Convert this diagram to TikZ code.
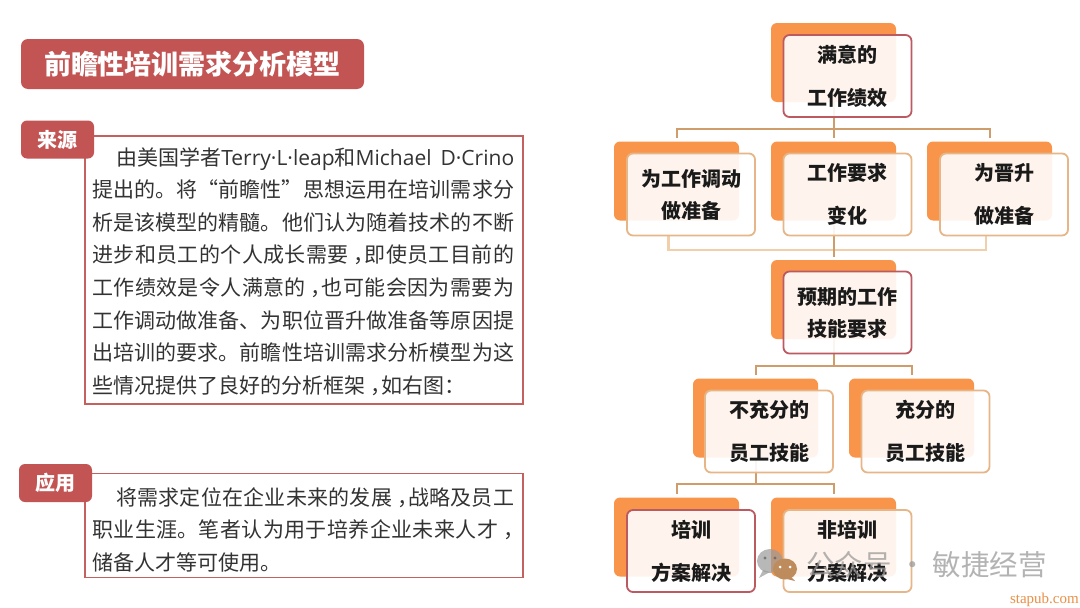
\documentclass[tikz,border=0pt]{standalone}
\usepackage{fontspec}
\setmainfont{Noto Sans CJK SC}
\newfontfamily\latinf{Open Sans}
\newfontfamily\wmserif{Liberation Serif}
\XeTeXlinebreaklocale "zh"
\XeTeXlinebreakskip=0pt plus 3pt minus 0pt
\newcommand{\nc}{\makebox[16pt][l]{\hspace{5pt}，}}
\definecolor{brick}{HTML}{C25453}
\definecolor{framec}{HTML}{C4615F}
\definecolor{backo}{HTML}{F8954A}
\definecolor{tanb}{HTML}{E6B688}
\definecolor{redb}{HTML}{BC5A62}
\definecolor{linkc}{HTML}{CF9D6C}
\definecolor{linkl}{HTML}{F2CFAB}
\definecolor{inkc}{HTML}{1A1A1A}
\definecolor{bodyc}{HTML}{333333}
\definecolor{wmc}{HTML}{9A9A9A}
\tikzset{
  backbox/.style={fill=backo,rounded corners=6pt,minimum width=125pt,minimum height=79pt,inner sep=0pt},
  frontbox/.style={draw=tanb,line width=1.8pt,fill=white,fill opacity=0.9,text opacity=1,rounded corners=6pt,inner sep=0pt,align=center,text=inkc,minimum height=82pt},
  wide/.style={frontbox,minimum width=128pt},
  hilite/.style={draw=redb},
  gapped/.style={font=\fontsize{20}{43}\bfseries\selectfont},
  tight/.style={font=\fontsize{20}{32}\bfseries\selectfont},
  conn/.style={draw=linkc,line width=2pt},
  connl/.style={draw=linkl,line width=2.2pt},
  titlebox/.style={fill=brick,rounded corners=7pt,inner sep=0pt,text=white,font=\fontsize{27}{30}\bfseries\selectfont,minimum width=343pt,minimum height=50pt},
  badge/.style={fill=brick,rounded corners=6pt,inner sep=0pt,text=white,font=\fontsize{20}{24}\bfseries\selectfont,minimum width=73pt,minimum height=38pt},
  framebox/.style={draw=framec,line width=1.7pt,fill=white,inner sep=0pt,minimum width=438pt},
  bodytext/.style={anchor=north west,inner sep=0pt,text=bodyc,text width=422pt,align=justify,font=\fontsize{21}{32.6}\selectfont},
}
\begin{document}
\begin{tikzpicture}[x=1pt,y=-1pt]
\useasboundingbox (0,0) rectangle (1080,608);
\fill[white] (0,0) rectangle (1080,608);

% left column
\node[titlebox] (title) at (192.5,64) {前瞻性培训需求分析模型};
\node[framebox,minimum height=268pt] (srcframe) at (304,270) {};
\node[framebox,minimum height=104pt] (appframe) at (304,525.5) {};
\node[badge] (srcbadge) at (57.5,139.5) {来源};
\node[badge] (appbadge) at (55.5,483) {应用};
\node[bodytext] (srctext) at (92,147) {\noindent\hspace{24pt}由美国学者{\latinf Terry·L·leap}和{\latinf\mbox{Michael\hskip 9pt plus 4pt D·Crino}}\linebreak
提出的。将“前瞻性”思想运用在培训需求分\linebreak
析是该模型的精髓。他们认为随着技术的不断\linebreak
进步和员工的个人成长需要\nc 即使员工目前的\linebreak
工作绩效是令人满意的\nc 也可能会因为需要为\linebreak
工作调动做准备、为职位晋升做准备等原因提\linebreak
出培训的要求。前瞻性培训需求分析模型为这\linebreak
些情况提供了良好的分析框架\nc 如右图：\par};
\node[bodytext] (apptext) at (92,487) {\noindent\hspace{24pt}将需求定位在企业未来的发展\nc 战略及员工\linebreak
职业生涯。笔者认为用于培养企业未来人才\nc\linebreak
储备人才等可使用。\par};

% orange backing boxes
\node[backbox] (b1) at (833.5,62.5) {};
\node[backbox] (b2l) at (676.5,181) {};
\node[backbox] (b2m) at (833.5,181) {};
\node[backbox] (b2r) at (989.5,181) {};
\node[backbox] (b3) at (833.5,299.5) {};
\node[backbox] (b4l) at (755.5,418) {};
\node[backbox] (b4r) at (911.5,418) {};
\node[backbox] (b5l) at (676.5,537) {};
\node[backbox] (b5r) at (833.5,537) {};

% junction points
\coordinate (j1) at (833.5,128.5);
\coordinate (j2) at (833.5,250);
\coordinate (j2l) at (668.5,236);
\coordinate (j2r) at (986,236);
\coordinate (j3) at (833.5,366);
\coordinate (j4) at (755.5,484);

% connectors
\draw[connl] (j2l) |- (j2) -| (j2r);
\draw[conn,shorten >=3pt] (b1.south) -- (j1) -| (b2l.north);
\draw[conn,shorten >=3pt] (j1) -| (b2r.north);
\draw[conn,shorten >=3pt] (j1) -- (b2m.north);
\draw[conn,shorten >=3pt] (b2m.south) -- (b3.north);
\draw[conn,shorten >=3pt] (b3.south) -- (j3) -| (b4l.north);
\draw[conn,shorten >=3pt] (j3) -| (b4r.north);
\draw[conn,shorten >=3pt] (b4l.south) -- (j4) -| (b5l.north);
\draw[conn,shorten >=3pt] (j4) -| (b5r.north);

% front boxes
\node[wide,hilite,gapped] (f1) at (847.5,76) {满意的\\工作绩效};
\node[wide,tight] (f2l) at (691,194.5) {为工作调动\\做准备};
\node[wide,gapped] (f2m) at (847.5,194.5) {工作要求\\变化};
\node[wide,gapped] (f2r) at (1004,194.5) {为晋升\\做准备};
\node[wide,hilite,tight] (f3) at (847.5,312.5) {预期的工作\\技能要求};
\node[wide,gapped] (f4l) at (769,431.5) {不充分的\\员工技能};
\node[wide,gapped] (f4r) at (925.5,431.5) {充分的\\员工技能};
\node[wide,hilite,gapped] (f5l) at (691,551) {培训\\方案解决};
\node[wide,gapped] (f5r) at (847.5,551) {非培训\\方案解决};

% watermark
\begin{scope}[opacity=0.7]
\fill[wmc] (770,561) ellipse (13pt and 12pt);
\fill[wmc] (763,570) -- (759,578) -- (770,572) -- cycle;
\fill[wmc!60!black] (765,558) circle (1.6pt) (775,558) circle (1.6pt);
\end{scope}
\fill[wmc!35!brown!85!backo] (785,569) ellipse (12pt and 10.5pt);
\fill[wmc!35!brown!85!backo] (790,576) -- (795,581) -- (783,578) -- cycle;
\fill[white] (780,567) circle (1.5pt) (790,567) circle (1.5pt);
\node[inner sep=0pt,anchor=west,text=wmc,opacity=0.75,font=\fontsize{28.5}{32}\selectfont] (wm) at (806,565) {公众号 · 敏捷经营};
\node[inner sep=0pt,anchor=east,text=backo!75!brown,font=\wmserif\fontsize{15}{18}\selectfont] (site) at (1079,600) {stapub.com};
\end{tikzpicture}
\end{document}
